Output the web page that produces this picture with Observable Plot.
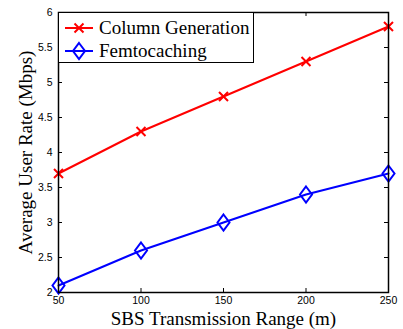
<!DOCTYPE html>
<html><head><meta charset="utf-8">
<script src="https://cdn.jsdelivr.net/npm/d3@7"></script>
<script src="https://cdn.jsdelivr.net/npm/@observablehq/plot@0.6"></script>
<style>
body{margin:0;background:#fff;}
#wrap{position:relative;width:403px;height:329px;}
#legend{position:absolute;left:58px;top:12px;width:194px;height:49px;border:1px solid #000;background:#fff;font-family:"Liberation Serif","Times New Roman",serif;font-size:19px;color:#000;box-sizing:content-box;}
.row{position:absolute;left:0;height:23px;display:flex;align-items:center;white-space:nowrap;}
.row svg{margin-left:6px;margin-right:6px;}
</style>
</head><body>
<div id="wrap"><div id="legend"></div></div>
<script>
const ranges = [50, 100, 150, 200, 250];
const columnGeneration = [3.7, 4.3, 4.8, 5.3, 5.8];
const femtocaching = [2.1, 2.6, 3.0, 3.4, 3.7];
const seriesNames = ["Column Generation", "Femtocaching"];
const seriesColors = ["#ff0000", "#0000ff"];
const xTicks = [50, 100, 150, 200, 250];
const yTicks = [2, 2.5, 3, 3.5, 4, 4.5, 5, 5.5, 6];

const data = [];
ranges.forEach((r, i) => {
  data.push({range: r, rate: columnGeneration[i], series: seriesNames[0]});
  data.push({range: r, rate: femtocaching[i], series: seriesNames[1]});
});

const times = {draw(ctx) {ctx.moveTo(-4.5,-4.5);ctx.lineTo(4.5,4.5);ctx.moveTo(-4.5,4.5);ctx.lineTo(4.5,-4.5);}};
const tallDiamond = {draw(ctx) {ctx.moveTo(0,-8);ctx.lineTo(6,0);ctx.lineTo(0,8);ctx.lineTo(-6,0);ctx.closePath();}};

const W = 403, H = 329, mL = 58, mR = 15, mT = 12, mB = 37;
const pw = W - mL - mR, ph = H - mT - mB;
const tickFont = "Liberation Sans, Arial, sans-serif";
const labelFont = "Liberation Serif, Times New Roman, serif";

const chart = Plot.plot({
  width: W, height: H,
  marginLeft: mL, marginRight: mR, marginTop: mT, marginBottom: mB,
  style: {background: "#fff", color: "#000"},
  x: {domain: [50, 250]},
  y: {domain: [2, 6]},
  marks: [
    Plot.axisX(xTicks, {tickSize: 0, tickPadding: 4, fontSize: 10.5, fontFamily: tickFont, label: null, tickFormat: d => String(d)}),
    Plot.axisY(yTicks, {tickSize: 0, tickPadding: 6, fontSize: 10.5, fontFamily: tickFont, label: null, tickFormat: d => String(d)}),
    Plot.tickX(xTicks, {x: d => d, insetTop: ph - 4, stroke: "#000"}),
    Plot.tickX(xTicks, {x: d => d, insetBottom: ph - 4, stroke: "#000"}),
    Plot.tickY(yTicks, {y: d => d, insetRight: pw - 4, stroke: "#000"}),
    Plot.tickY(yTicks, {y: d => d, insetLeft: pw - 4, stroke: "#000"}),
    Plot.line(data, {x: "range", y: "rate", z: "series", stroke: d => d.series === seriesNames[0] ? seriesColors[0] : seriesColors[1], strokeWidth: 2}),
    Plot.dot(data.filter(d => d.series === seriesNames[0]), {x: "range", y: "rate", symbol: times, stroke: seriesColors[0], strokeWidth: 2, r: 5}),
    Plot.dot(data.filter(d => d.series === seriesNames[1]), {x: "range", y: "rate", symbol: tallDiamond, stroke: seriesColors[1], strokeWidth: 2, fill: "none", r: 5}),
    Plot.frame({stroke: "#000", strokeWidth: 1.5}),
    Plot.text(["SBS Transmission Range (m)"], {frameAnchor: "bottom", textAnchor: "middle", lineAnchor: "middle", dy: 26, fontSize: 19, fontFamily: labelFont, fill: "#000"}),
    Plot.text(["Average User Rate (Mbps)"], {frameAnchor: "left", textAnchor: "middle", lineAnchor: "middle", dx: -33, rotate: -90, fontSize: 19, fontFamily: labelFont, fill: "#000"})
  ]
});
const wrap = document.getElementById("wrap");
wrap.insertBefore(chart, wrap.firstChild);

const legend = document.getElementById("legend");
seriesNames.forEach((name, i) => {
  const row = document.createElement("div");
  row.className = "row";
  row.style.top = (3 + i * 23) + "px";
  const marker = i === 0
    ? `<path d="M9.5,5.5L18.5,14.5M9.5,14.5L18.5,5.5" stroke="${seriesColors[i]}" stroke-width="2" fill="none"/>`
    : `<path d="M14,2L20,10L14,18L8,10Z" stroke="${seriesColors[i]}" stroke-width="2" fill="none"/>`;
  row.innerHTML = `<svg width="28" height="20"><line x1="0" y1="10" x2="28" y2="10" stroke="${seriesColors[i]}" stroke-width="2"/>${marker}</svg><span>${name}</span>`;
  legend.appendChild(row);
});
</script>
</body></html>
